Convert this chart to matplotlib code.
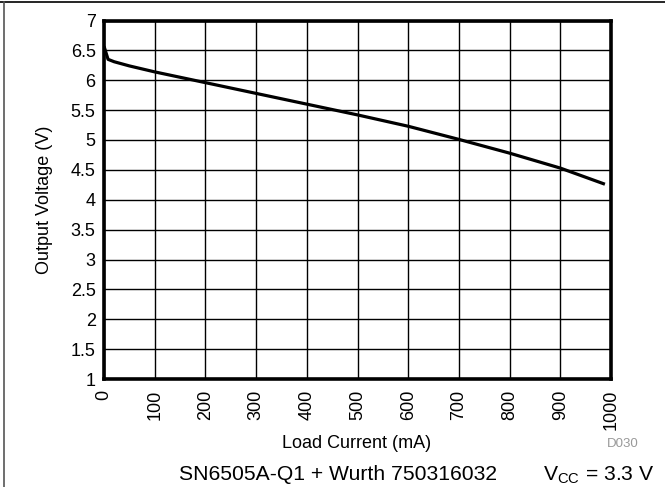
import matplotlib
matplotlib.use('Agg')
import matplotlib.pyplot as plt
from matplotlib.lines import Line2D

plt.rcParams['font.family'] = ['Liberation Sans', 'DejaVu Sans']
plt.rcParams['mathtext.fontset'] = 'custom'
plt.rcParams['mathtext.rm'] = 'Liberation Sans'

# load current (mA) vs output voltage (V)
load_current = [0, 8, 20, 50, 100, 200, 300, 400, 500, 600, 700, 800, 900, 988]
output_voltage = [6.57, 6.35, 6.31, 6.24, 6.14, 5.96, 5.78, 5.60, 5.42, 5.23, 5.01, 4.78, 4.53, 4.26]

x_ticks = list(range(0, 1001, 100))
y_ticks = [1, 1.5, 2, 2.5, 3, 3.5, 4, 4.5, 5, 5.5, 6, 6.5, 7]
y_tick_labels = ['1', '1.5', '2', '2.5', '3', '3.5', '4', '4.5', '5', '5.5', '6', '6.5', '7']

fig = plt.figure(figsize=(6.65, 4.87), dpi=100)
ax = fig.add_axes([104 / 665, 1 - 379 / 487, (611 - 104) / 665, (379 - 20.5) / 487])

ax.plot(load_current, output_voltage, color='black', lw=2.3, solid_capstyle='butt', zorder=3)

ax.set_xlim(0, 1000)
ax.set_ylim(1, 7)
ax.set_xticks(x_ticks)
ax.set_xticklabels([str(t) for t in x_ticks], rotation=90, va='top')
ax.set_yticks(y_ticks)
ax.set_yticklabels(y_tick_labels)
ax.tick_params(axis='x', length=0, pad=8, labelsize=13)
ax.tick_params(axis='y', length=0, pad=6, labelsize=13)
ax.grid(True, color='black', lw=1.0)
for sp in ax.spines.values():
    sp.set_linewidth(2.6)
    sp.set_zorder(4)

fig.text(45 / 665, 1 - 200 / 487, 'Output Voltage (V)', rotation=90, ha='center', va='center', fontsize=13)
fig.text(357 / 665, 1 - 443 / 487, 'Load Current (mA)', ha='center', va='center', fontsize=13)
fig.text(623 / 665, 1 - 444 / 487, 'D030', ha='center', va='center', fontsize=9.5, color='#999999')
fig.text(338.5 / 665, 1 - 475 / 487, 'SN6505A-Q1 + Wurth 750316032', ha='center', va='center', fontsize=15.2)
fig.text(543 / 665, 1 - 475 / 487, r'V$_{\mathrm{CC}}$ = 3.3 V', ha='left', va='center', fontsize=15.2)

# outer frame (top and left edges)
fig.add_artist(Line2D([0, 1], [1 - 2 / 487, 1 - 2 / 487], transform=fig.transFigure, color='black', lw=1.2))
fig.add_artist(Line2D([3.5 / 665, 3.5 / 665], [0, 1 - 2 / 487], transform=fig.transFigure, color='#555555', lw=1.2))

fig.savefig('out.png', dpi=100)
